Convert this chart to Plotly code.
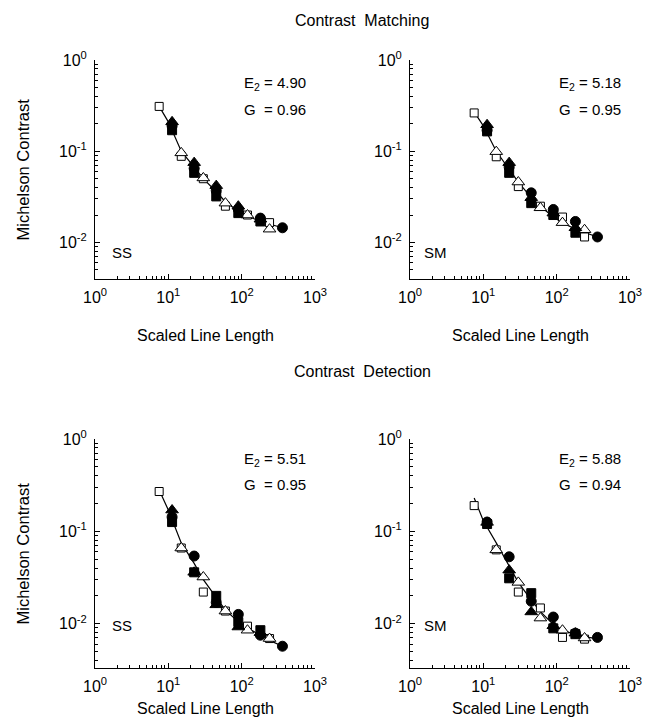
import plotly.graph_objects as go

# page body adds an 8px margin, so the figure is drawn slightly smaller and offset
OFF = 8
W, H = 653 - OFF, 723 - OFF
FONT = "Liberation Sans, Arial, sans-serif"

# scaled line length positions (open = even steps, filled = offset steps)
x_open = [7.5, 15, 30, 60, 120, 240]
x_open_tri = [15, 30, 60, 120, 240]
x_fill = [11.25, 22.5, 45, 90, 180, 360]
x_fill5 = [11.25, 22.5, 45, 90, 180]
x_fit = [7.5, 10, 15, 22.5, 30, 45, 60, 90, 120, 180, 240, 360]

# Contrast Matching, SS
m_ss_sq = [0.31, 0.088, 0.050, 0.025, 0.020, 0.0165]
m_ss_tri = [0.096, 0.051, 0.027, 0.020, 0.014]
m_ss_fcirc = [0.19, 0.065, 0.037, 0.023, 0.0185, 0.0145]
m_ss_ftri = [0.21, 0.075, 0.042, 0.025, 0.018]
m_ss_fsq = [0.17, 0.058, 0.032, 0.021, 0.017]
m_ss_fit = [0.31, 0.21, 0.10, 0.066, 0.050, 0.036, 0.028, 0.022, 0.0195, 0.017, 0.0158, 0.0145]

# Contrast Matching, SM
m_sm_sq = [0.263, 0.087, 0.041, 0.025, 0.019, 0.0115]
m_sm_tri = [0.099, 0.046, 0.024, 0.0165, 0.0138]
m_sm_fcirc = [0.17, 0.067, 0.035, 0.023, 0.017, 0.0115]
m_sm_ftri = [0.195, 0.075, 0.031, 0.021, 0.0145]
m_sm_fsq = [0.165, 0.058, 0.027, 0.020, 0.0128]
m_sm_fit = [0.27, 0.19, 0.10, 0.063, 0.046, 0.031, 0.025, 0.019, 0.0165, 0.014, 0.0128, 0.0115]

# Contrast Detection, SS
d_ss_sq = [0.27, 0.066, 0.022, 0.0137, 0.0094, 0.0069]
d_ss_tri = [0.066, 0.032, 0.0137, 0.0085, 0.0069]
d_ss_fcirc = [0.143, 0.054, 0.017, 0.0126, 0.0075, 0.0057]
d_ss_ftri = [0.17, 0.036, 0.016, 0.0092, 0.0080]
d_ss_fsq = [0.126, 0.036, 0.020, 0.0104, 0.0085]
d_ss_fit = [0.28, 0.17, 0.075, 0.045, 0.030, 0.019, 0.014, 0.0105, 0.009, 0.0075, 0.0066, 0.0057]

# Contrast Detection, SM
d_sm_sq = [0.19, 0.063, 0.022, 0.0148, 0.0071, 0.0068]
d_sm_tri = [0.063, 0.028, 0.0115, 0.0085, 0.0070]
d_sm_fcirc = [0.126, 0.053, 0.0175, 0.0118, 0.0079, 0.0071]
d_sm_ftri = [0.125, 0.038, 0.0134, 0.0095, 0.0079]
d_sm_fsq = [0.12, 0.031, 0.0214, 0.0089, 0.0077]
d_sm_fit = [0.23, 0.13, 0.075, 0.042, 0.028, 0.018, 0.0135, 0.0098, 0.0085, 0.0076, 0.0072, 0.0069]

panels = [
    (m_ss_sq, m_ss_tri, m_ss_fcirc, m_ss_ftri, m_ss_fsq, m_ss_fit),
    (m_sm_sq, m_sm_tri, m_sm_fcirc, m_sm_ftri, m_sm_fsq, m_sm_fit),
    (d_ss_sq, d_ss_tri, d_ss_fcirc, d_ss_ftri, d_ss_fsq, d_ss_fit),
    (d_sm_sq, d_sm_tri, d_sm_fcirc, d_sm_ftri, d_sm_fsq, d_sm_fit),
]
e2_vals = ["4.90", "5.18", "5.51", "5.88"]
g_vals = ["0.96", "0.95", "0.95", "0.94"]
obs = ["SS", "SM", "SS", "SM"]

# pixel boxes in the page (left, right, top, bottom)
boxes = [(95, 315, 60, 279), (410, 630, 60, 279), (95, 315, 439, 668), (410, 630, 439, 668)]
y_ranges = [[-2.4, 0], [-2.4, 0], [-2.48, 0], [-2.48, 0]]


def px_x(p):
    return (p - OFF) / W


def px_y(p):
    return 1 - (p - OFF) / H


x_minor = [v * d for d in (1, 10, 100) for v in range(2, 10)]
y_minor = [v * d for d in (0.001, 0.01, 0.1) for v in range(2, 10)]

fig = go.Figure()
ann = []
for i, (sq, tri, fc, ft, fs, fit) in enumerate(panels):
    n = "" if i == 0 else str(i + 1)
    xa, ya = "x" + n, "y" + n
    line = dict(color="black", width=1)
    fig.add_trace(go.Scatter(x=x_fit, y=fit, mode="lines", line=dict(color="black", width=1.2),
                             xaxis=xa, yaxis=ya, hoverinfo="skip"))
    fig.add_trace(go.Scatter(x=x_open, y=sq, mode="markers", xaxis=xa, yaxis=ya,
                             marker=dict(symbol="square", size=8, color="white", line=line)))
    fig.add_trace(go.Scatter(x=x_open_tri, y=tri, mode="markers", xaxis=xa, yaxis=ya,
                             marker=dict(symbol="triangle-up", size=11, color="white", line=line)))
    fig.add_trace(go.Scatter(x=x_fill5, y=fs, mode="markers", xaxis=xa, yaxis=ya,
                             marker=dict(symbol="square", size=9, color="black", line=line)))
    fig.add_trace(go.Scatter(x=x_fill5, y=ft, mode="markers", xaxis=xa, yaxis=ya,
                             marker=dict(symbol="triangle-up", size=11, color="black", line=line)))
    fig.add_trace(go.Scatter(x=x_fill, y=fc, mode="markers", xaxis=xa, yaxis=ya,
                             marker=dict(symbol="circle", size=10, color="black", line=line)))

    l, r, t, b = boxes[i]
    common = dict(showline=True, linecolor="black", linewidth=1, showgrid=False, zeroline=False,
                  automargin=False, ticks="inside", ticklen=5, tickcolor="black", ticklabelstandoff=4,
                  tickfont=dict(family=FONT, size=16, color="black"))
    fig.layout["xaxis" + n] = dict(
        type="log", range=[0, 3], domain=[px_x(l), px_x(r)], anchor=ya,
        tickmode="array", tickvals=[1, 10, 100, 1000],
        ticktext=["10<sup>0</sup>", "10<sup>1</sup>", "10<sup>2</sup>", "10<sup>3</sup>"],
        minor=dict(ticks="inside", ticklen=3, tickcolor="black", tickvals=x_minor), **common)
    fig.layout["yaxis" + n] = dict(
        type="log", range=y_ranges[i], domain=[px_y(b), px_y(t)], anchor=xa,
        tickmode="array", tickvals=[0.01, 0.1, 1],
        ticktext=["10<sup>-2</sup>", "10<sup>-1</sup>", "10<sup>0</sup>"],
        minor=dict(ticks="inside", ticklen=3, tickcolor="black", tickvals=y_minor), **common)

    tx = l + 147
    e_y = t + 24 if i < 2 else t + 20
    ann.append(dict(x=px_x(tx), y=px_y(e_y), text="E<sub>2</sub> = " + e2_vals[i]))
    ann.append(dict(x=px_x(tx), y=px_y(e_y + 25), text="G\u00a0 = " + g_vals[i]))
    ann.append(dict(x=px_x(l + 15 if i % 2 == 0 else l + 12), y=px_y(b - 27 if i < 2 else b - 43), text=obs[i]))
    # axis titles
    xt_y = 335 if i < 2 else 708
    ann.append(dict(x=px_x((l + r) / 2), y=px_y(xt_y), text="Scaled Line Length", xanchor="center", size=16))
    if i % 2 == 0:
        ann.append(dict(x=px_x(22), y=px_y((t + b) / 2), text="Michelson Contrast", xanchor="center",
                        size=16.5, textangle=-90))

ann.append(dict(x=px_x(362), y=px_y(20), text="Contrast\u00a0 Matching", xanchor="center", size=16))
ann.append(dict(x=px_x(362), y=px_y(372), text="Contrast\u00a0 Detection", xanchor="center", size=16))

annotations = []
for a in ann:
    annotations.append(dict(
        x=a["x"], y=a["y"], xref="paper", yref="paper", text=a["text"], showarrow=False,
        xanchor=a.get("xanchor", "left"), yanchor="middle", textangle=a.get("textangle", 0),
        font=dict(family=FONT, size=a.get("size", 15), color="black")))

fig.update_layout(
    width=W, height=H, margin=dict(l=0, r=0, t=0, b=0, autoexpand=False),
    paper_bgcolor="white", plot_bgcolor="white", showlegend=False,
    annotations=annotations,
)
fig.write_html("out.html")
